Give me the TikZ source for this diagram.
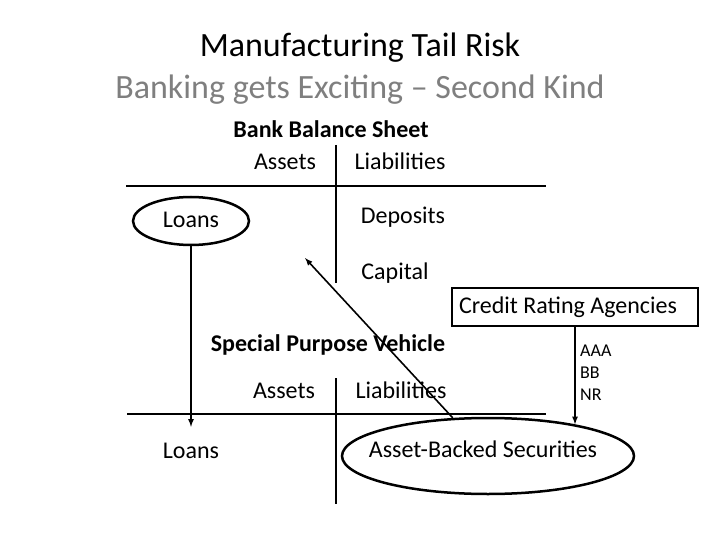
\documentclass[tikz,border=0pt]{standalone}
\usepackage{fontspec}
\setmainfont{Carlito}
\usetikzlibrary{shapes.geometric}
\definecolor{subgray}{RGB}{127,127,127}

\begin{document}
\begin{tikzpicture}[x=1pt, y=-1pt]
    \tikzstyle{title text}=[
        font = \fontsize{34}{40}\selectfont,
        text height = 24pt,
        text depth = 7pt
    ]
    \tikzstyle{sheet text}=[
        font = \fontsize{24}{28}\selectfont,
        text height = 17pt,
        text depth = 5pt,
        inner sep = 0pt
    ]
    \tikzstyle{head text}=[
        sheet text,
        font = \fontsize{24}{28}\selectfont\bfseries
    ]
    \tikzstyle{rating text}=[
        font = \fontsize{18}{21}\selectfont,
        anchor = west,
        inner sep = 0pt
    ]
    \tikzstyle{ring}=[
        sheet text,
        draw = black,
        line width = 2.5pt,
        ellipse,
        inner xsep = -30pt
    ]
    \tikzstyle{t line}=[-, line width = 1.6pt]
    \tikzstyle{flow}=[-latex, line width = 1.6pt]

    \useasboundingbox (0,0) rectangle (720,540);

    \node[title text]            (title)    at (360, 48)  {Manufacturing Tail Risk};
    \node[title text, subgray]   (subtitle) at (360, 90)  {Banking gets Exciting -- Second Kind};

    \node[head text]   (bank)      at (331, 132) {Bank Balance Sheet};
    \node[sheet text]  (bankA)     at (285, 164) {Assets};
    \node[sheet text]  (bankL)     at (400, 164) {Liabilities};
    \node[ring, minimum width = 116, minimum height = 48] (bankLoans) at (191, 221) {Loans};
    \node[sheet text]  (deposits)  at (403, 218) {Deposits};
    \node[sheet text]  (capital)   at (395, 273) {Capital};
    \coordinate        (bankTip)   at (305, 258);

    \node[sheet text, draw, line width = 2.5pt, inner xsep = 7pt, minimum height = 38]
        (cra) at (575, 307) {\makebox[232pt][l]{Credit Rating Agencies}};
    \node[rating text] (aaa) at (580, 351) {AAA};
    \node[rating text] (bb)  at (580, 373) {BB};
    \node[rating text] (nr)  at (580, 395) {NR};

    \node[head text]   (spv)       at (328, 345) {Special Purpose Vehicle};
    \node[sheet text]  (spvA)      at (284, 392) {Assets};
    \node[sheet text]  (spvL)      at (401, 392) {Liabilities};
    \node[sheet text]  (spvLoans)  at (191, 452) {Loans};
    \node[ring, text depth = 15pt, minimum width = 292, minimum height = 76] (asb) at (488, 456) {\makebox[0pt]{\hspace*{-10pt}Asset-Backed Securities}};

    % T-accounts
    \draw[t line] (336, 145) -- (336, 283);
    \draw[t line] (126, 186) -- (546, 186);
    \draw[t line] (336, 378) -- (336, 504);
    \draw[t line] (127, 414) -- (546, 414);

    \draw[flow, shorten >= 14pt] (bankLoans) -- (spvLoans);
    \draw[flow] (asb) -- (bankTip);
    \draw[flow] (cra) -- (cra.south |- asb.20);

\end{tikzpicture}
\end{document}
